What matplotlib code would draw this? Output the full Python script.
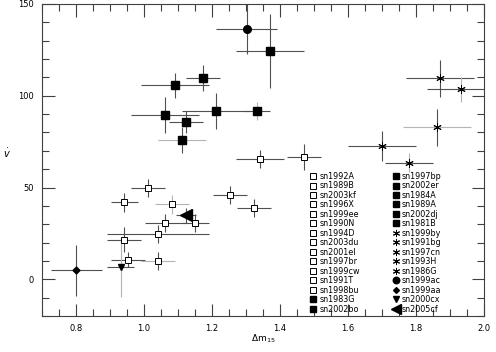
import matplotlib
matplotlib.use('Agg')
import matplotlib.pyplot as plt
from matplotlib.ticker import MultipleLocator

# open squares
open_names = ['sn1992A', 'sn1989B', 'sn2003kf', 'sn1996X', 'sn1999ee', 'sn1990N', 'sn1994D',
              'sn2003du', 'sn2001el', 'sn1997br', 'sn1999cw', 'sn1991T', 'sn1998bu']
open_dm = [1.342, 1.471, 1.012, 0.942, 1.082, 1.252, 1.323, 1.151, 1.063, 1.041, 0.942, 0.952, 1.041]
open_v = [65.6, 66.7, 49.8, 41.9, 40.8, 45.8, 38.7, 30.7, 30.7, 24.6, 21.7, 10.8, 9.9]
open_dm_err = [0.07, 0.05, 0.05, 0.04, 0.05, 0.05, 0.05, 0.04, 0.06, 0.15, 0.05, 0.05, 0.05]
open_v_err = [5, 7, 5, 5, 5, 5, 5, 5, 5, 5, 7, 4, 5]

# filled squares
fill_names = ['sn1983G', 'sn2002bo', 'sn1997bp', 'sn2002er', 'sn1984A', 'sn1989A', 'sn2002dj', 'sn1981B']
fill_dm = [1.371, 1.173, 1.092, 1.062, 1.213, 1.331, 1.123, 1.112]
fill_v = [124.4, 109.5, 105.6, 89.5, 91.7, 91.7, 85.6, 75.7]
fill_dm_err = [0.1, 0.05, 0.1, 0.1, 0.1, 0.04, 0.05, 0.07]
fill_v_err = [20, 7, 7, 10, 10, 5, 6, 7]

# asterisks
star_names = ['sn1999by', 'sn1991bg', 'sn1997cn', 'sn1993H', 'sn1986G']
star_dm = [1.871, 1.932, 1.862, 1.701, 1.780]
star_v = [109.5, 103.4, 82.7, 72.7, 63.6]
star_dm_err = [0.1, 0.1, 0.1, 0.1, 0.07]
star_v_err = [10, 7, 10, 8, 5]

# single objects
single_names = ['sn1999ac', 'sn1999aa', 'sn2000cx', 'sn2005cf']
single_dm = [1.302, 0.801, 0.931, 1.124]
single_v = [136.5, 4.9, 6.6, 34.9]
single_dm_err = [0.09, 0.075, 0.04, 0.03]
single_v_err = [14, 14, 16, 4]

# which error bars are drawn light grey
grey_x = {'sn1999ee', 'sn1998bu', 'sn1981B', 'sn1997cn'}
grey_y = {'sn1999ee', 'sn1989A', 'sn1991bg', 'sn1986G', 'sn2000cx'}

DARK = '#505050'
LIGHT = '#b4b4b4'

plt.rcParams['font.family'] = 'DejaVu Sans'
fig = plt.figure(figsize=(4.96, 3.52), dpi=100)
ax = fig.add_axes([0.0847, 0.102, 0.891, 0.887])


def draw(name, x, y, xe, ye, **mk):
    ax.errorbar(x, y, xerr=xe, fmt='none', ecolor=LIGHT if name in grey_x else DARK,
                elinewidth=0.8, capsize=0, zorder=2)
    ax.errorbar(x, y, yerr=ye, fmt='none', ecolor=LIGHT if name in grey_y else DARK,
                elinewidth=0.8, capsize=0, zorder=2)
    ax.plot(x, y, linestyle='none', label=name, zorder=3, **mk)


for i, n in enumerate(open_names):
    draw(n, open_dm[i], open_v[i], open_dm_err[i], open_v_err[i],
         marker='s', ms=4.5, mfc='white', mec='black', mew=0.7)
for i, n in enumerate(fill_names):
    draw(n, fill_dm[i], fill_v[i], fill_dm_err[i], fill_v_err[i],
         marker='s', ms=5.2, color='black')
for i, n in enumerate(star_names):
    draw(n, star_dm[i], star_v[i], star_dm_err[i], star_v_err[i],
         marker=(6, 2, 0), ms=6, color='black', mew=0.7)
single_mk = [dict(marker='o', ms=5.5), dict(marker='D', ms=3.5),
             dict(marker='v', ms=5), dict(marker='<', ms=8)]
for i, n in enumerate(single_names):
    draw(n, single_dm[i], single_v[i], single_dm_err[i], single_v_err[i],
         color='black', **single_mk[i])

ax.set_xlim(0.7, 2.0)
ax.set_ylim(-20, 150)
ax.xaxis.set_major_locator(MultipleLocator(0.2))
ax.xaxis.set_minor_locator(MultipleLocator(0.05))
ax.yaxis.set_major_locator(MultipleLocator(50))
ax.yaxis.set_minor_locator(MultipleLocator(10))
ax.xaxis.set_major_formatter(plt.FuncFormatter(lambda v, p: '%.1f' % v))
ax.tick_params(which='both', direction='in', top=True, right=True, labelsize=6,
               color='#404040', width=0.8)
ax.tick_params(which='major', length=9, pad=6)
ax.tick_params(which='minor', length=5)
for s in ax.spines.values():
    s.set_linewidth(0.8)
    s.set_color('#404040')

ax.set_xlabel(r'$\Delta$m$_{15}$', fontsize=6.5, labelpad=-1)
ax.set_ylabel(r'$\dot{v}$', fontsize=7, rotation=0, labelpad=8)

handles, labels = ax.get_legend_handles_labels()
ax.legend(handles, labels, ncol=2, loc='upper left', bbox_to_anchor=(0.606, 0.462),
          frameon=False, fontsize=5.8, labelspacing=0.06, handlelength=0.9,
          handleheight=0.7, handletextpad=0.3, columnspacing=4.0, borderpad=0,
          borderaxespad=0, markerscale=0.85)

fig.savefig('out.png', dpi=100)
